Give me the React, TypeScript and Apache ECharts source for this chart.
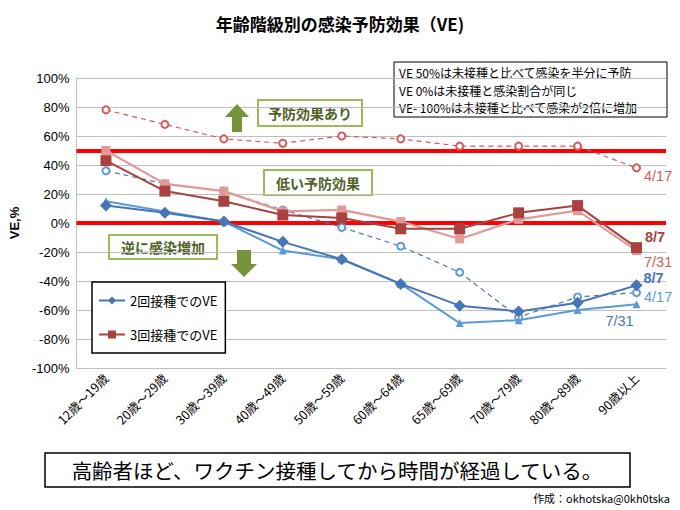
import React, { useEffect, useRef } from "react";
import * as echarts from "echarts";

const categories = ["12歳～19歳", "20歳～29歳", "30歳～39歳", "40歳～49歳", "50歳～59歳", "60歳～64歳", "65歳～69歳", "70歳～79歳", "80歳～89歳", "90歳以上"];
const dose2_0807 = [12, 7, 1, -13, -25, -42, -57, -61, -55, -43];
const dose2_0731 = [15, 8, 1, -19, -25, -42, -69, -67, -60, -56];
const dose2_0417 = [36, 27, 22, 9, -3, -16, -34, -65, -51, -48];
const dose3_0807 = [43, 22, 15, 5.5, 3.5, -4, -4, 7, 12, -17];
const dose3_0731 = [50, 27, 22, 8, 9, 1, -11, 2.5, 8.5, -19];
const dose3_0417 = [78, 68, 58, 55, 60, 58, 53, 53, 53, 38];
const referenceLines = [50, 0];
const endLabels = { d2_0807: "8/7", d2_0731: "7/31", d2_0417: "4/17", d3_0807: "8/7", d3_0731: "7/31", d3_0417: "4/17" };
const noteLines = ["VE 50%は未接種と比べて感染を半分に予防", "VE 0%は未接種と感染割合が同じ", "VE- 100%は未接種と比べて感染が2倍に増加"];

const JP = '"Noto Sans CJK JP", "Noto Sans", sans-serif';
const NUM = '"Liberation Sans", "Noto Sans", sans-serif';

function withEndLabel(values: number[], text: string, label: any) {
  return values.map((v, i) =>
    i === values.length - 1
      ? { value: v, label: { show: true, formatter: text, fontFamily: NUM, fontSize: 14.5, ...label } }
      : v
  );
}

export default function App() {
  const ref = useRef<HTMLDivElement>(null);
  useEffect(() => {
    if (!ref.current) return;
    const chart = echarts.init(ref.current, null, { renderer: "svg" });
    const darkBlue = "#4675b8";
    const lightBlue = "#5b9bd5";
    const darkRed = "#a9413f";
    const pink = "#e29a99";
    const dashRed = "#d65b5b";
    const green = "#9bbb59";
    const greenText = "#4f6228";
    const arrow = "#77933c";

    const greenBox = (x: number, y: number, w: number, h: number, text: string) => ({
      type: "group",
      z: 20,
      children: [
        { type: "rect", shape: { x, y, width: w, height: h }, style: { fill: "#fff", stroke: green, lineWidth: 2 } },
        {
          type: "text",
          x: x + w / 2,
          y: y + h / 2,
          style: { text, fill: greenText, font: `bold 14px ${JP}`, textAlign: "center", textVerticalAlign: "middle" },
        },
      ],
    });

    chart.setOption({
      animation: false,
      backgroundColor: "#fff",
      title: {
        text: "年齢階級別の感染予防効果（VE)",
        left: "center",
        top: 10,
        textStyle: { fontFamily: JP, fontSize: 17, fontWeight: "bold", color: "#000" },
      },
      grid: { left: 62, right: 14, top: 78, bottom: 142 },
      legend: {
        data: ["2回接種でのVE", "3回接種でのVE"],
        orient: "vertical",
        left: 92,
        top: 282,
        itemGap: 21,
        itemWidth: 26,
        itemHeight: 10,
        padding: [12, 8, 12, 6],
        borderColor: "#000",
        borderWidth: 1.5,
        backgroundColor: "#fff",
        textStyle: { fontFamily: JP, fontSize: 13, color: "#000" },
        z: 20,
      },
      xAxis: {
        type: "category",
        data: categories,
        boundaryGap: true,
        axisLine: { lineStyle: { color: "#bfbfbf" } },
        axisTick: { show: false },
        axisLabel: { rotate: 45, interval: 0, fontFamily: JP, fontSize: 12.5, color: "#000", margin: 8 },
      },
      yAxis: {
        type: "value",
        min: -100,
        max: 100,
        interval: 20,
        name: "VE,%",
        nameLocation: "middle",
        nameGap: 48,
        nameTextStyle: { fontFamily: NUM, fontSize: 13, fontWeight: "bold", color: "#000" },
        axisLine: { show: true, lineStyle: { color: "#bfbfbf" } },
        axisTick: { show: false },
        axisLabel: { formatter: "{value}%", fontFamily: NUM, fontSize: 13, color: "#000", margin: 7 },
        splitLine: { lineStyle: { color: "#bfbfbf", width: 1 } },
      },
      series: [
        {
          name: "3回4/17",
          type: "line",
          data: withEndLabel(dose3_0417, endLabels.d3_0417, { position: "right", offset: [-2, 8], color: dashRed }),
          symbol: "emptyCircle",
          symbolSize: 7,
          lineStyle: { color: dashRed, width: 1.2, type: [5, 4] },
          itemStyle: { color: dashRed, borderWidth: 1 },
          markLine: {
            silent: true,
            symbol: "none",
            label: { show: false },
            lineStyle: { color: "#ff0000", width: 4, type: "solid" },
            data: referenceLines.map((v) => ({ yAxis: v })),
            z: 1,
          },
        },
        {
          name: "2回4/17",
          type: "line",
          data: withEndLabel(dose2_0417, endLabels.d2_0417, { position: "right", offset: [-2, 4], color: lightBlue }),
          symbol: "emptyCircle",
          symbolSize: 7,
          lineStyle: { color: darkBlue, width: 1.2, type: [5, 4] },
          itemStyle: { color: lightBlue, borderWidth: 1 },
        },
        {
          name: "3回7/31",
          type: "line",
          data: withEndLabel(dose3_0731, endLabels.d3_0731, { position: "right", offset: [-2, 11], color: "#d65b5b" }),
          symbol: "rect",
          symbolSize: 9,
          lineStyle: { color: pink, width: 2.2 },
          itemStyle: { color: pink },
        },
        {
          name: "2回7/31",
          type: "line",
          data: withEndLabel(dose2_0731, endLabels.d2_0731, { position: "bottom", offset: [-17, 0], color: darkBlue }),
          symbol: "triangle",
          symbolSize: 8,
          lineStyle: { color: lightBlue, width: 2 },
          itemStyle: { color: lightBlue },
        },
        {
          name: "3回接種でのVE",
          type: "line",
          data: withEndLabel(dose3_0807, endLabels.d3_0807, { position: "right", offset: [-2, -11], color: darkRed, fontWeight: "bold" }),
          symbol: "rect",
          symbolSize: 11,
          lineStyle: { color: darkRed, width: 2 },
          itemStyle: { color: darkRed },
        },
        {
          name: "2回接種でのVE",
          type: "line",
          data: withEndLabel(dose2_0807, endLabels.d2_0807, { position: "right", offset: [-4, -7], color: darkBlue, fontWeight: "bold" }),
          symbol: "diamond",
          symbolSize: 12,
          lineStyle: { color: darkBlue, width: 2 },
          itemStyle: { color: darkBlue },
        },
      ],
      graphic: [
        {
          type: "group",
          z: 20,
          children: [
            { type: "rect", shape: { x: 394, y: 62, width: 273, height: 55 }, style: { fill: "#fff", stroke: "#000", lineWidth: 1 } },
            {
              type: "text",
              x: 399,
              y: 64,
              style: { text: noteLines.join("\n"), fill: "#000", font: `12px ${JP}`, lineHeight: 17.5, textVerticalAlign: "top" },
            },
          ],
        },
        greenBox(258, 100, 104, 26, "予防効果あり"),
        greenBox(264, 170, 108, 25, "低い予防効果"),
        greenBox(109, 235, 108, 24, "逆に感染増加"),
        {
          type: "polygon",
          z: 20,
          shape: { points: [[237, 104], [249, 117], [242, 117], [242, 132], [232, 132], [232, 117], [225, 117]] },
          style: { fill: arrow },
        },
        {
          type: "polygon",
          z: 20,
          shape: { points: [[237, 250], [251, 250], [251, 264], [257, 264], [244, 277], [231, 264], [237, 264]] },
          style: { fill: arrow },
        },
        {
          type: "group",
          z: 20,
          children: [
            { type: "rect", shape: { x: 45, y: 453, width: 585, height: 34 }, style: { fill: "#fff", stroke: "#000", lineWidth: 1.5 } },
            {
              type: "text",
              x: 337,
              y: 470,
              style: { text: "高齢者ほど、ワクチン接種してから時間が経過している。", fill: "#000", font: `20.5px ${JP}`, textAlign: "center", textVerticalAlign: "middle" },
            },
          ],
        },
        {
          type: "text",
          x: 670,
          y: 498,
          style: { text: "作成：okhotska@0kh0tska", fill: "#000", font: `11px ${JP}`, textAlign: "right", textVerticalAlign: "middle" },
        },
      ],
    });
    return () => chart.dispose();
  }, []);
  return <div ref={ref} style={{ position: "absolute", left: 0, top: 0, width: 680, height: 510 }} />;
}
